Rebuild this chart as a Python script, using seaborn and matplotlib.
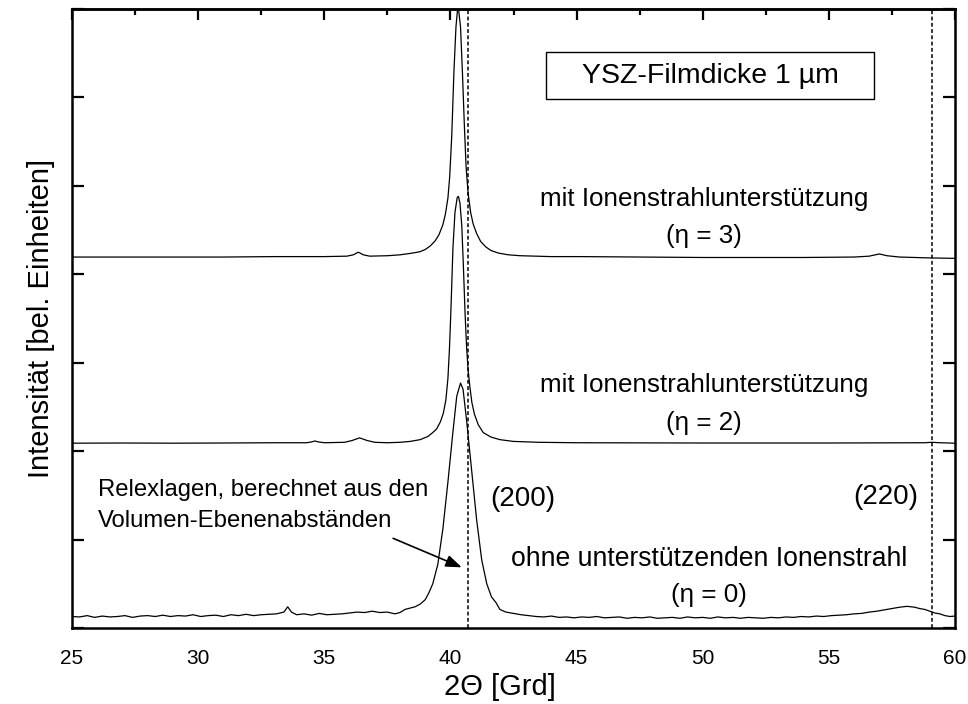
import matplotlib
matplotlib.use("Agg")
import matplotlib.pyplot as plt
import seaborn as sns
import numpy as np
from matplotlib.patches import Rectangle

# ---- data ----
x_eta0 = [25.0, 25.3, 25.6, 25.9, 26.2, 26.5, 26.8, 27.1, 27.4, 27.7, 28.0, 28.3, 28.6, 28.9,
          29.2, 29.5, 29.8, 30.1, 30.4, 30.7, 31.0, 31.3, 31.6, 31.9, 32.2, 32.5, 32.8, 33.1,
          33.4, 33.55, 33.7, 33.9, 34.2, 34.5, 34.8, 35.1, 35.4, 35.7, 36.0, 36.3, 36.6, 36.9,
          37.2, 37.5, 37.8, 38.0, 38.2, 38.4, 38.6, 38.8, 39.0, 39.15, 39.3, 39.5, 39.7, 39.9,
          40.1, 40.25, 40.4, 40.5, 40.64, 40.84, 41.04, 41.24, 41.44, 41.63, 41.8, 41.96, 42.2,
          42.5, 42.8, 43.1, 43.4, 43.7, 44.0, 44.3, 44.6, 44.9, 45.2, 45.5, 45.8, 46.1, 46.4,
          46.7, 47.0, 47.3, 47.6, 47.9, 48.2, 48.5, 48.8, 49.1, 49.4, 49.7, 50.0, 50.3, 50.6,
          50.9, 51.2, 51.5, 51.8, 52.1, 52.4, 52.7, 53.0, 53.3, 53.6, 53.9, 54.2, 54.5, 54.8,
          55.1, 55.4, 55.7, 56.0, 56.3, 56.6, 56.9, 57.2, 57.5, 57.8, 58.1, 58.4, 58.6, 58.8,
          59.0, 59.2, 59.4, 59.6, 59.8, 60.0]
y_eta0 = [0.13, 0.125, 0.14, 0.12, 0.135, 0.125, 0.13, 0.14, 0.12, 0.135, 0.14, 0.13, 0.145, 0.13,
          0.14, 0.135, 0.15, 0.13, 0.14, 0.145, 0.13, 0.15, 0.14, 0.155, 0.14, 0.15, 0.155, 0.16,
          0.18, 0.24, 0.18, 0.15, 0.16, 0.145, 0.165, 0.15, 0.155, 0.16, 0.17, 0.18, 0.175, 0.19,
          0.175, 0.18, 0.16, 0.175, 0.21, 0.225, 0.24, 0.27, 0.32, 0.40, 0.50, 0.72, 1.12, 1.65,
          2.22, 2.62, 2.77, 2.70, 2.35, 1.79, 1.22, 0.77, 0.50, 0.35, 0.29, 0.21, 0.18,
          0.165, 0.15, 0.14, 0.13, 0.125, 0.135, 0.12, 0.125, 0.115, 0.125, 0.12, 0.13, 0.115, 0.12,
          0.125, 0.11, 0.12, 0.115, 0.125, 0.11, 0.115, 0.12, 0.11, 0.125, 0.115, 0.12, 0.11, 0.125,
          0.115, 0.12, 0.11, 0.12, 0.115, 0.11, 0.12, 0.115, 0.125, 0.12, 0.13, 0.125, 0.135, 0.13,
          0.14, 0.145, 0.15, 0.16, 0.165, 0.18, 0.19, 0.205, 0.22, 0.235, 0.245, 0.235, 0.22, 0.21,
          0.19, 0.17, 0.16, 0.14, 0.13, 0.135]

x_eta2 = [25.0, 27.0, 29.0, 31.0, 33.0, 34.3, 34.5, 34.63, 34.75, 35.0, 35.8, 36.1, 36.4, 36.7,
          37.0, 37.5, 38.0, 38.4, 38.8, 39.1, 39.3, 39.45, 39.6, 39.72, 39.82, 39.9, 39.96, 40.02,
          40.1, 40.18, 40.27, 40.32, 40.38, 40.45, 40.51, 40.58, 40.64, 40.7, 40.77, 40.85, 40.95,
          41.1, 41.3, 41.6, 41.96, 42.5, 43.5, 45.0, 50.0, 55.0, 58.8, 59.1, 59.4, 60.0]
y_eta2 = [2.09, 2.092, 2.09, 2.092, 2.095, 2.095, 2.105, 2.115, 2.105, 2.095, 2.10, 2.12, 2.15, 2.12,
          2.10, 2.095, 2.10, 2.11, 2.13, 2.165, 2.21, 2.25, 2.33, 2.43, 2.58, 2.82, 3.15, 3.60,
          4.30, 4.70, 4.87, 4.88, 4.80, 4.55, 4.12, 3.56, 3.18, 2.92, 2.73, 2.55, 2.42,
          2.30, 2.21, 2.16, 2.13, 2.11, 2.10, 2.095, 2.092, 2.092, 2.095, 2.10, 2.095, 2.09]

x_eta3 = [25.0, 28.0, 31.0, 33.0, 35.0, 35.9, 36.15, 36.35, 36.55, 36.8, 37.5, 38.0, 38.5, 38.79,
          39.0, 39.2, 39.4, 39.55, 39.7, 39.8, 39.9, 39.97, 40.05, 40.14, 40.22, 40.3, 40.4,
          40.48, 40.55, 40.62, 40.7, 40.8, 40.9, 41.04, 41.2, 41.4, 41.6, 41.9, 42.3, 42.76,
          44.0, 45.13, 50.0, 54.0, 56.0, 56.6, 57.0, 57.3, 57.8, 59.0, 60.0]
y_eta3 = [4.195, 4.195, 4.195, 4.2, 4.2, 4.205, 4.22, 4.25, 4.22, 4.205, 4.21, 4.22, 4.24, 4.255,
          4.28, 4.32, 4.38, 4.45, 4.56, 4.68, 4.86, 5.10, 5.55, 6.30, 6.80, 7.05, 6.80,
          6.25, 5.70, 5.22, 4.92, 4.70, 4.57, 4.46, 4.37, 4.31, 4.27, 4.24, 4.22, 4.21,
          4.20, 4.20, 4.19, 4.19, 4.195, 4.205, 4.23, 4.21, 4.195, 4.185, 4.18]

reflex_positions = [40.7, 59.1]
x_ticks = [25, 30, 35, 40, 45, 50, 55, 60]

FS = ["Liberation Sans", "DejaVu Sans"]

sns.set_theme(style="white")
plt.rcParams["font.family"] = FS
plt.rcParams["text.color"] = "black"
plt.rcParams["axes.labelcolor"] = "black"
plt.rcParams["xtick.color"] = "black"
plt.rcParams["ytick.color"] = "black"
plt.rcParams["axes.edgecolor"] = "black"
plt.rcParams["axes.linewidth"] = 1.8

fig = plt.figure(figsize=(9.68, 7.04), dpi=100)
ax = fig.add_axes([72 / 968, 76 / 704, 883 / 968, 619 / 704])

for xs, ys in [(x_eta0, y_eta0), (x_eta2, y_eta2), (x_eta3, y_eta3)]:
    sns.lineplot(x=xs, y=ys, color="black", lw=0.9, ax=ax, sort=False)

for xr in reflex_positions:
    ax.axvline(xr, color="black", lw=1.1, ls=(0, (2.5, 1.6)))

ax.set_xlim(25, 60)
ax.set_ylim(0, 7)
ax.set_xticks(x_ticks)
ax.set_xticks(np.arange(27.5, 60, 5), minor=True)
ax.set_yticks(range(8))
ax.set_yticklabels([])
ax.tick_params(axis="x", which="major", direction="out", length=8, width=1.6,
               labelsize=15, pad=7, colors="black")
ax.tick_params(axis="x", which="minor", direction="out", length=4.5, width=1.6)
ax.tick_params(axis="y", which="major", direction="in", length=8.5, width=1.6,
               left=True, right=True)

sec = ax.secondary_xaxis("top")
sec.set_xticks(x_ticks)
sec.set_xticks(np.arange(27.5, 60, 5), minor=True)
sec.tick_params(axis="x", which="major", direction="in", length=8, width=1.6, labeltop=False)
sec.tick_params(axis="x", which="minor", direction="in", length=4.5, width=1.6)
sec.set_xticklabels([])

for s in ax.spines.values():
    s.set_color("black")
    s.set_linewidth(1.8)

ax.set_xlabel("2\u0398 [Grd]", fontsize=21, color="black")
ax.xaxis.set_label_coords((500 - 72) / 883, -0.072)
ax.set_ylabel("Intensit\u00e4t [bel. Einheiten]", fontsize=21, labelpad=9, color="black")

# annotations
ax.add_patch(Rectangle((43.79, 5.98), 13.0, 0.53, fill=False, ec="black", lw=1.0))
ax.text(50.3, 6.245, "YSZ-Filmdicke 1 \u00b5m", fontsize=20.5, ha="center", va="center")

ax.text(50.05, 4.85, "mit Ionenstrahlunterst\u00fctzung", fontsize=18.7, ha="center", va="center")
ax.text(50.05, 4.43, "(\u03b7 = 3)", fontsize=18.7, ha="center", va="center")
ax.text(50.05, 2.75, "mit Ionenstrahlunterst\u00fctzung", fontsize=18.7, ha="center", va="center")
ax.text(50.05, 2.32, "(\u03b7 = 2)", fontsize=18.7, ha="center", va="center")
ax.text(50.27, 0.78, "ohne unterst\u00fctzenden Ionenstrahl", fontsize=19.1, ha="center", va="center")
ax.text(50.25, 0.37, "(\u03b7 = 0)", fontsize=18.7, ha="center", va="center")
ax.text(42.88, 1.46, "(200)", fontsize=20, ha="center", va="center")
ax.text(57.24, 1.48, "(220)", fontsize=20, ha="center", va="center")
ax.text(26.03, 1.56, "Relexlagen, berechnet aus den", fontsize=17.2, ha="left", va="center")
ax.text(26.03, 1.21, "Volumen-Ebenenabst\u00e4nden", fontsize=17.2, ha="left", va="center")
ax.annotate("", xy=(40.45, 0.686), xytext=(37.73, 1.014),
            arrowprops=dict(arrowstyle="-|>,head_length=0.8,head_width=0.3",
                            color="black", lw=1.2, shrinkA=0, shrinkB=0))

fig.savefig("out.png", dpi=100, facecolor="white")
